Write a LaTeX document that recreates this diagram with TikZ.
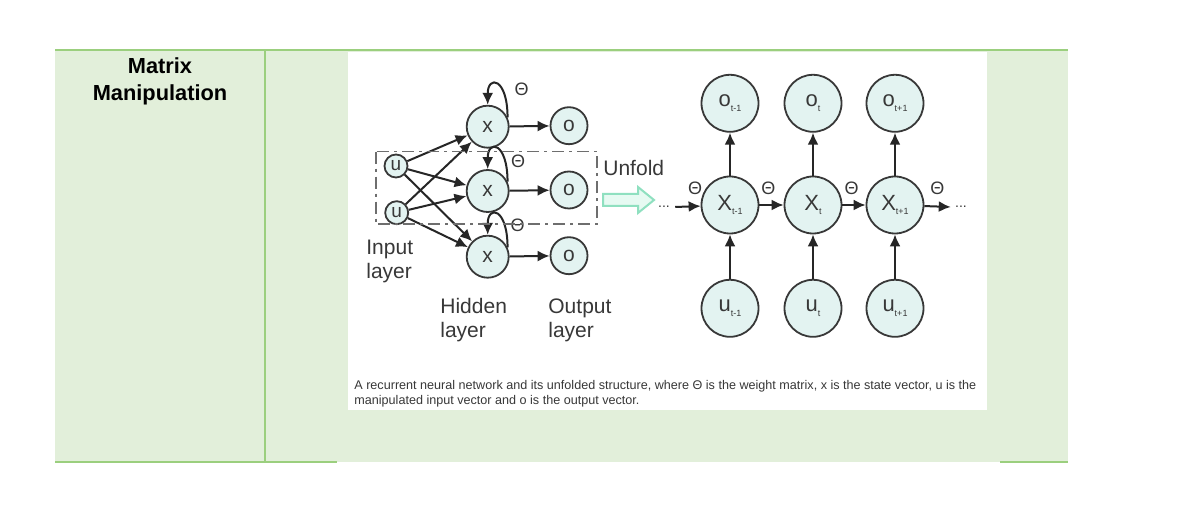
\documentclass[tikz,border=0pt]{standalone}
\usepackage{fontspec}
\setmainfont{Liberation Sans}
\usetikzlibrary{arrows.meta,positioning,calc}

\definecolor{cellgreen}{HTML}{E2EFDA}
\definecolor{rulegreen}{HTML}{9BCF7E}
\definecolor{unitfill}{HTML}{E3F3F1}
\definecolor{inkgray}{HTML}{383838}
\definecolor{boxgray}{HTML}{6E6E6E}
\definecolor{mintline}{HTML}{8FE0C0}
\definecolor{mintfill}{HTML}{E6FAF2}

\newcommand{\lowidx}[1]{\raisebox{-2.2pt}{\fontsize{4.5}{5}\selectfont #1}}

\tikzset{
  unit/.style={circle,draw=inkgray,fill=unitfill,line width=0.9pt,inner sep=0pt,text=inkgray},
  hid/.style={unit,minimum size=21pt,font=\fontsize{10.5}{11}\selectfont},
  outp/.style={unit,minimum size=18.5pt,font=\fontsize{10.5}{11}\selectfont},
  inp/.style={unit,minimum size=11.5pt,font=\fontsize{9.5}{10}\selectfont},
  seq/.style={unit,minimum size=28.5pt,font=\fontsize{11}{11}\selectfont},
  link/.style={line width=1pt,draw=black!85,-{Latex[length=6pt,width=5.5pt]}},
  lbl/.style={text=inkgray,font=\fontsize{10.5}{12}\selectfont,align=left,inner sep=0pt},
  wgt/.style={text=inkgray,font=\fontsize{9}{10}\selectfont,inner sep=0pt},
}

\begin{document}
\begin{tikzpicture}[x=0.5pt,y=-0.5pt]
  \useasboundingbox (0,0) rectangle (1200,507);
  % table cells
  \fill[cellgreen] (55,50) rectangle (1068,462);
  \fill[white] (348,52) rectangle (987,410);
  \draw[rulegreen,line width=1pt] (55,50)--(1068,50);
  \draw[rulegreen,line width=0.8pt] (265,50)--(265,462);
  \draw[rulegreen,line width=1pt] (55,462)--(337,462);
  \draw[rulegreen,line width=1pt] (1000,462)--(1068,462);
  \node[font=\bfseries\fontsize{10.9}{13.5}\selectfont,align=center] (title) at (160,81) {Matrix\\Manipulation};

  % folded network
  \node[hid] (x1) at (487.7,126.7) {x};
  \node[hid] (x2) at (487.7,191) {x};
  \node[hid] (x3) at (487.7,256.7) {x};
  \node[outp] (o1) at (569,125.7) {o};
  \node[outp] (o2) at (569,190) {o};
  \node[outp] (o3) at (569,255.7) {o};
  \node[inp] (u1) at (396,166) {u};
  \node[inp] (u2) at (396.7,212.7) {u};
  \foreach \i in {1,2,3}{
    \draw[link] (x\i) -- (o\i);
    \draw[link] (u1) -- (x\i);
    \draw[link] (u2) -- (x\i);
    \draw[link] (x\i.25) .. controls ($(x\i.25)+(0,-40)$) and ($(x\i.north)+(0,-30)$) .. (x\i.north);
  }
  \node[wgt] (w1) at (521.7,89.3) {Θ};
  \node[wgt] (w2) at (518,161.7) {Θ};
  \node[wgt] (w3) at (517.7,225) {Θ};
  \draw[boxgray,line width=0.8pt,dash pattern=on 6pt off 2.5pt on 1.5pt off 2.5pt] (375.7,151.7) rectangle (597,224.3);
  \node[lbl,anchor=west] (inlab) at (366,261) {Input\\layer};
  \node[lbl,anchor=west] (hidlab) at (440,320) {Hidden\\layer};
  \node[lbl,anchor=west] (outlab) at (548,320) {Output\\layer};
  \node[lbl,anchor=west] (unfold) at (603,168) {Unfold};
  \draw[mintline,fill=mintfill,line width=1pt] (603,194)--(638,194)--(638,187)--(654,200)--(638,213)--(638,206)--(603,206)--cycle;

  % unfolded network
  \foreach \n/\c/\s in {p/730/t-1,c/813/t,q/895/t+1}{
    \node[seq] (o\n) at (\c,103.3) {o\lowidx{\s}};
    \node[seq] (x\n) at (\c,205) {X\lowidx{\s}};
    \node[seq] (u\n) at (\c,308.3) {u\lowidx{\s}};
    \draw[link] (x\n) -- (o\n);
    \draw[link] (u\n) -- (x\n);
  }
  \node[wgt,font=\fontsize{7}{7}\selectfont] (dotsL) at (664,207) {...};
  \node[wgt,font=\fontsize{7}{7}\selectfont] (dotsR) at (961,207) {...};
  \draw[link] ($(dotsL.east)+(5,0)$) -- (xp);
  \draw[link] (xp) -- (xc);
  \draw[link] (xc) -- (xq);
  \draw[link] (xq) -- ($(dotsR.west)+(-4,0)$);
  \node[wgt] (wp) at (695,188.3) {Θ};
  \node[wgt] (wc) at (768.3,188) {Θ};
  \node[wgt] (wq) at (851.7,188) {Θ};
  \node[wgt] (wr) at (937.3,188) {Θ};

  \node[anchor=north west,align=left,inner sep=0pt,text=inkgray,font=\fontsize{6.3}{7.6}\selectfont] (caption) at (354,380)
    {A recurrent neural network and its unfolded structure, where Θ is the weight matrix, x is the state vector, u is the\\manipulated input vector and o is the output vector.};
\end{tikzpicture}
\end{document}
